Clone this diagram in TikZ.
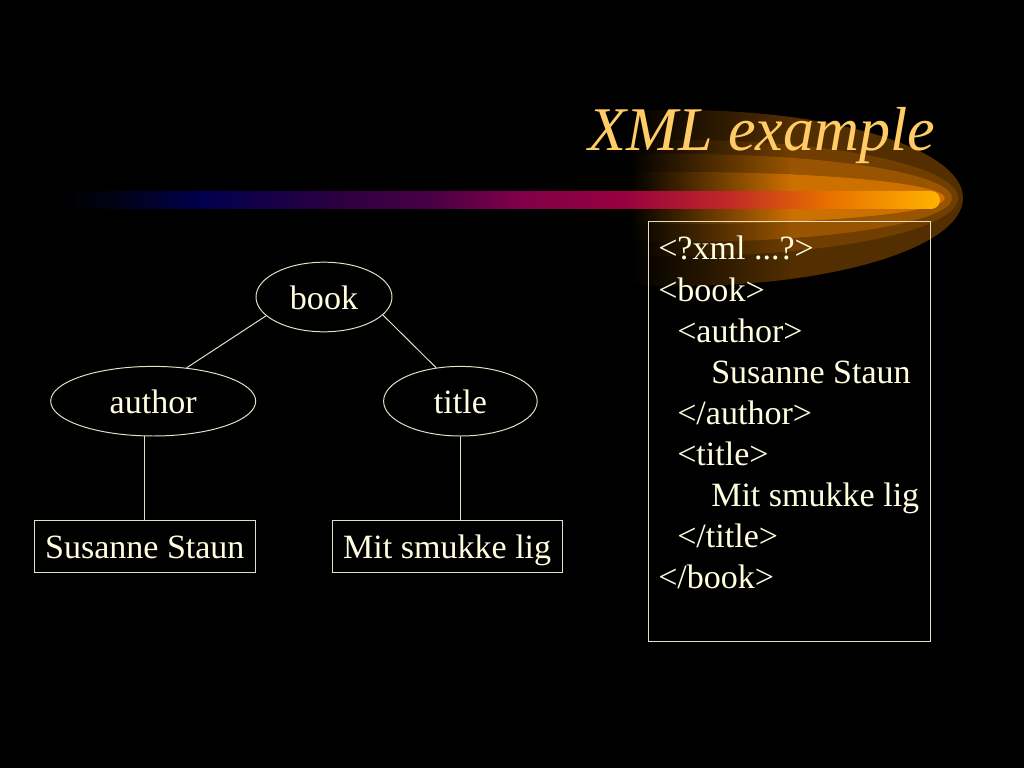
\documentclass[tikz,border=0pt]{standalone}
\usepackage{fontspec}
\setmainfont{Liberation Serif}
\usepackage{xcolor}
\usepackage{tikz}
\usetikzlibrary{positioning, shapes.geometric}
\definecolor{ink}{RGB}{255,255,224}
\definecolor{wire}{RGB}{228,224,200}
\definecolor{headcol}{RGB}{255,204,102}
\definecolor{glowA}{RGB}{82,46,0}
\definecolor{glowB}{RGB}{112,62,0}
\definecolor{glowC}{RGB}{152,84,0}
\definecolor{glowD}{RGB}{204,112,0}
\definecolor{barA}{RGB}{2,2,24}
\definecolor{barB}{RGB}{0,0,78}
\definecolor{barC}{RGB}{42,0,64}
\definecolor{barD}{RGB}{74,0,69}
\definecolor{barE}{RGB}{128,0,72}
\definecolor{barF}{RGB}{150,0,64}
\definecolor{barG}{RGB}{192,40,40}
\definecolor{barH}{RGB}{232,112,0}
\definecolor{barI}{RGB}{255,180,0}
\pgfdeclarehorizontalshading{barfade}{100bp}{color(0bp)=(black); color(25bp)=(black);
  color(28.3bp)=(barA); color(32.9bp)=(barB); color(40.4bp)=(barC); color(46.1bp)=(barD);
  color(51.1bp)=(barE); color(56.8bp)=(barF); color(62.9bp)=(barG); color(68.6bp)=(barH);
  color(75bp)=(barI); color(100bp)=(barI)}
\tikzset{
  tag/.style={draw=wire, ellipse, line width=0.7pt, inner sep=0pt, minimum height=1.74cm,
              text=ink, text height=0.6cm, text depth=0pt, font=\fontsize{24.2}{29.2}\selectfont},
  leaf/.style={draw=wire, line width=0.7pt, inner sep=0pt, minimum height=1.3cm,
               text=ink, text height=0.6cm, text depth=0pt, font=\fontsize{24.2}{29.2}\selectfont},
  edge/.style={draw=wire, line width=0.7pt},
  xmlframe/.style={draw=wire, line width=0.7pt, inner sep=0pt, anchor=north west,
                   minimum width=7.05cm, minimum height=10.5cm},
  codeline/.style={anchor=base west, inner sep=0pt, text=ink, font=\fontsize{24.2}{29.2}\selectfont},
  heading/.style={anchor=base west, inner sep=0pt, text=headcol, font=\fontsize{44.2}{53}\selectfont\itshape}
}

\begin{document}
\begin{tikzpicture}
  \useasboundingbox (0,0) rectangle (25.6,-19.2);
  \fill[black] (0,0) rectangle (25.6,-19.2);

  % glow round the end of the bar
  \foreach \ry/\rx/\col in {2.2/7.075/glowA, 1.45/6.95/glowB, 1.1/6.8/glowC, 0.65/6.62/glowD}{
    \begin{scope}
      \clip (17,-4.95) ellipse [x radius=\rx, y radius=\ry];
      \shade[left color=black, right color=\col] (15.75,-2) rectangle (19.8,-8);
      \fill[\col] (19.75,-2) rectangle (25,-8);
    \end{scope}
  }
  \shade[shading=barfade, rounded corners=0.225cm] (1.55,-4.775) rectangle (23.5,-5.225);

  \node[heading] (head) at (14.7,-3.775) {XML example};

  % the document as text
  \node[xmlframe] (xmlbox) at (16.2,-5.525) {};
  \foreach \ind/\txt [count=\i] in {0/{<?xml ...?>}, 0/{<book>}, 0.475/{<author>},
      1.325/{Susanne Staun}, 0.475/{</author>}, 0.475/{<title>}, 1.325/{Mit smukke lig},
      0.475/{</title>}, 0/{</book>}}
    \node[codeline] (line\i) at ({16.45+\ind},{-5.475-1.025*\i}) {\txt};

  % the document as a tree
  \node[tag, minimum width=3.4cm] (book) at (8.1,-7.425) {book};
  \node[tag, minimum width=5.125cm] (author) at (3.83,-10.03) {author};
  \node[tag, minimum width=3.84cm] (title) at (11.51,-10.03) {title};
  \node[leaf, minimum width=5.54cm, below=2.1cm of author.south, xshift=-0.21cm] (sus) {Susanne Staun};
  \node[leaf, minimum width=5.75cm, below=2.1cm of title.south, xshift=-0.33cm] (mit) {Mit smukke lig};
  \draw[edge] (book.198) -- (author.45);
  \draw[edge] (book.343) -- (title.126);
  \draw[edge] (sus.north |- author.south) -- (sus.north);
  \draw[edge] (title.south) -- (title.south |- mit.north);
\end{tikzpicture}
\end{document}
